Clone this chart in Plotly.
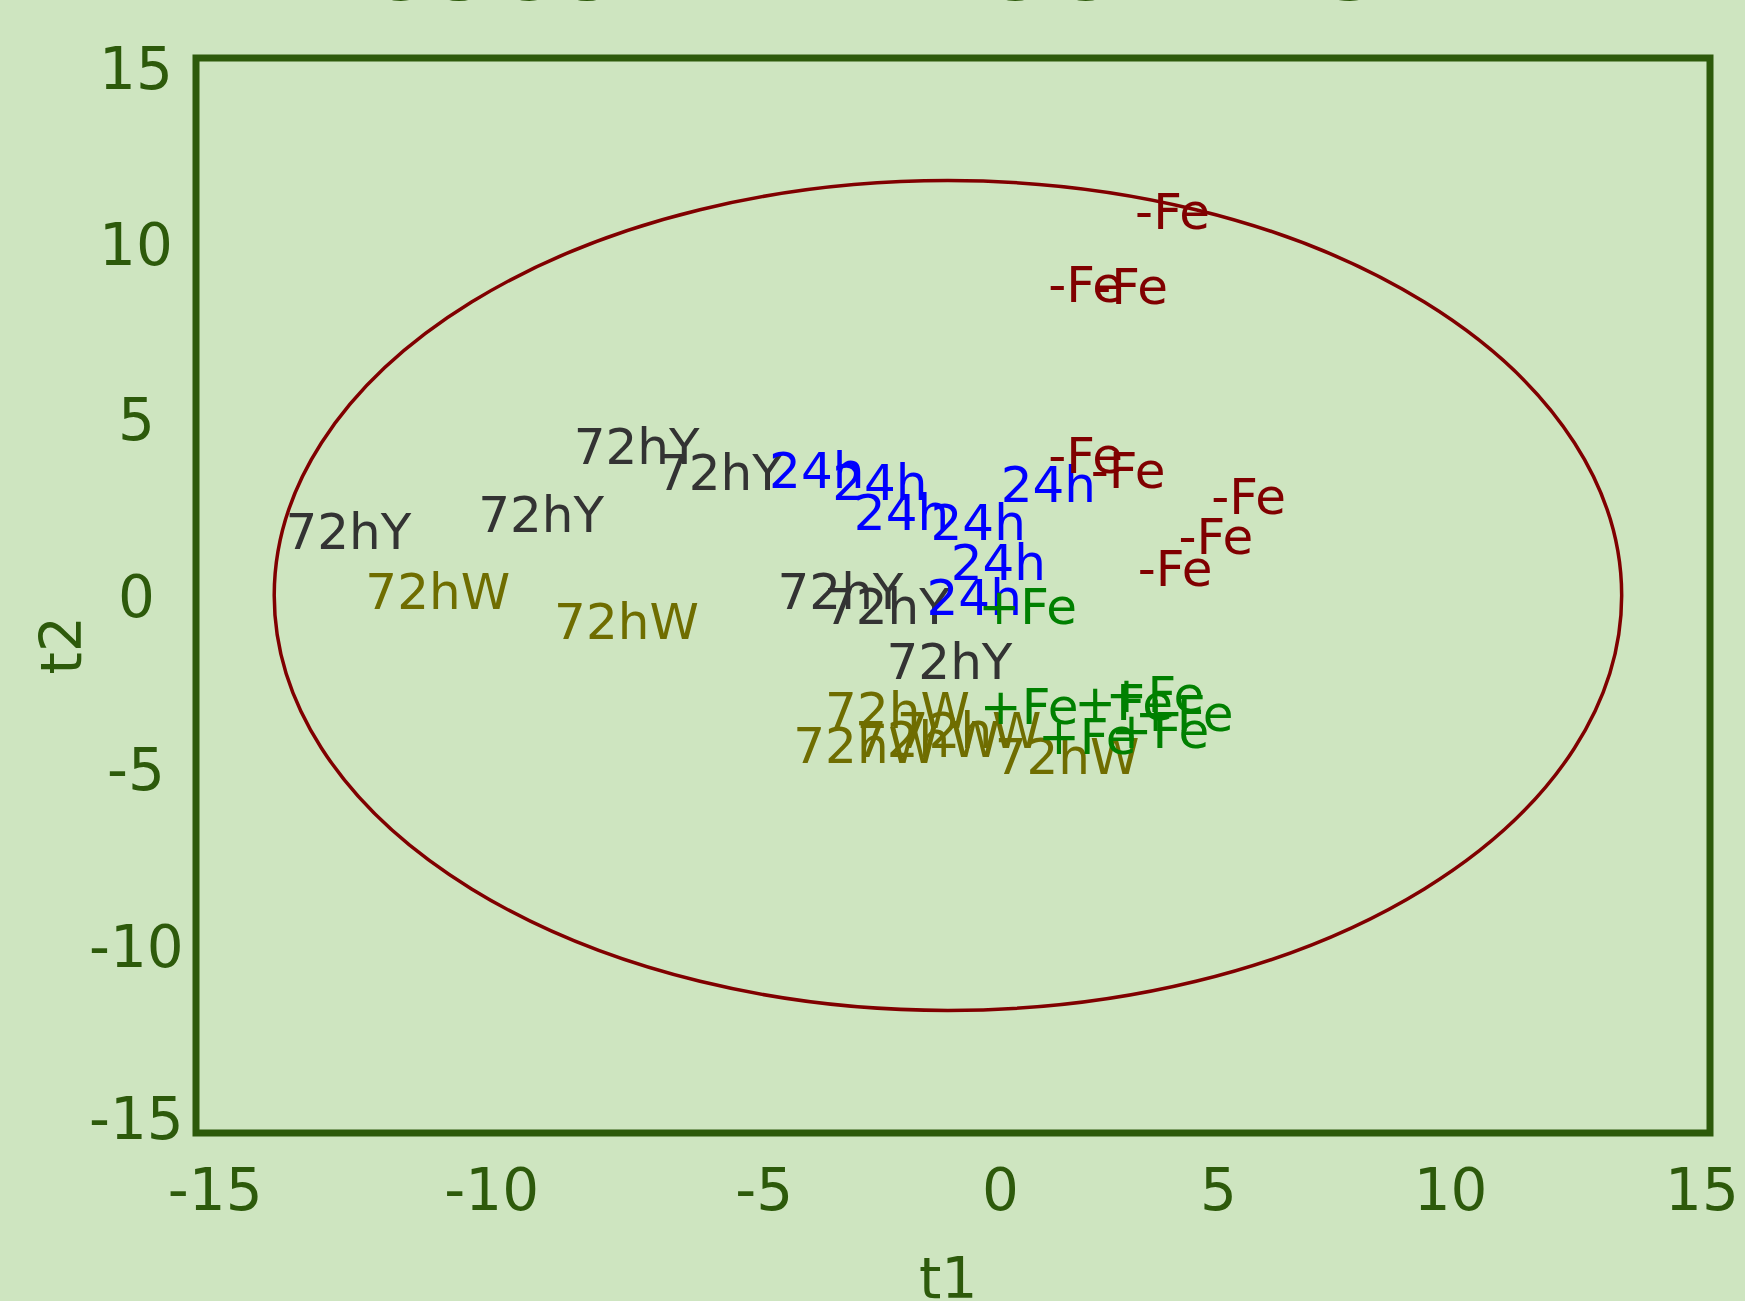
import plotly.graph_objects as go

# ---- data (scores) ----
t1_72hY = [-11.98, -8.16, -6.27, -4.62, -2.23, -1.31, -0.07]
t2_72hY = [1.65, 2.12, 4.01, 3.30, -0.02, -0.46, -1.98]

t1_72hW = [-10.21, -6.47, -1.10, -1.73, -0.51, 0.32, 2.26]
t2_72hW = [-0.02, -0.86, -3.36, -4.32, -4.15, -3.90, -4.64]

t1_24h = [-2.70, -1.45, -1.02, 0.50, 1.89, 0.90, 0.42]
t2_24h = [3.34, 3.01, 2.17, 1.90, 2.96, 0.78, -0.20]

t1_mFe = [2.63, 3.47, 5.86, 5.21, 4.40, 4.35, 2.63, 3.52]
t2_mFe = [3.78, 3.34, 2.62, 1.50, 0.61, 10.57, 8.55, 8.48]

t1_pFe = [1.48, 1.51, 3.38, 4.00, 4.58, 2.66, 4.10]
t2_pFe = [-0.45, -3.25, -3.12, -2.91, -3.43, -4.08, -3.90]

# Hotelling ellipse (center and semi-axes, in score units)
ell_cx, ell_cy = -0.1, 0.0
ell_a, ell_b = 13.35, 11.58

x_tick_pos = [-14.62, -9.14, -3.74, 0.94, 5.26, 9.86, 14.84]
x_tick_labels = ["-15", "-10", "-5", "0", "5", "10", "15"]
y_tick_pos = [14.69, 9.79, 4.89, -0.05, -4.87, -9.80, -14.62]
y_tick_labels = ["15", "10", "5", "0", "-5", "-10", "-15"]

title_text = "CUCUMBER ROOT PLS"
x_title = "t1"
y_title = "t2"

BG = "#cee5c0"
DKGREEN = "#2d5a0b"
FONT = "DejaVu Sans"
LBL = 50
TICK = 58

series = [
    ("72hY", t1_72hY, t2_72hY, "#333333"),
    ("72hW", t1_72hW, t2_72hW, "#6f6d00"),
    ("24h", t1_24h, t2_24h, "#0000ff"),
    ("-Fe", t1_mFe, t2_mFe, "#800000"),
    ("+Fe", t1_pFe, t2_pFe, "#008000"),
]

fig = go.Figure()
for name, xs, ys, col in series:
    fig.add_trace(go.Scatter(
        x=xs, y=ys, mode="text", text=[name] * len(xs),
        textposition="middle center",
        textfont=dict(family=FONT, size=LBL, color=col),
        showlegend=False, hoverinfo="skip", cliponaxis=False,
    ))

fig.add_shape(type="circle", xref="x", yref="y",
              x0=ell_cx - ell_a, x1=ell_cx + ell_a,
              y0=ell_cy - ell_b, y1=ell_cy + ell_b,
              line=dict(color="#800000", width=3.5), layer="above")

fig.add_shape(type="rect", xref="paper", yref="paper", x0=0, x1=1, y0=0, y1=1,
              line=dict(color=DKGREEN, width=7), layer="above")

# centred y tick labels
for v, t in zip(y_tick_pos, y_tick_labels):
    fig.add_annotation(text=t, xref="paper", yref="y", x=0, y=v,
                       xanchor="center", yanchor="middle", xshift=-60,
                       showarrow=False, font=dict(family=FONT, size=TICK, color=DKGREEN))

fig.add_annotation(text="<b>" + title_text + "</b>", xref="paper", yref="paper",
                   x=0.4467, y=1, yanchor="bottom", xanchor="center", yshift=36,
                   showarrow=False, font=dict(family=FONT, size=83, color=DKGREEN))
fig.add_annotation(text=x_title, xref="paper", yref="paper", x=0.4967, y=0,
                   yanchor="middle", xanchor="center", yshift=-145,
                   showarrow=False, font=dict(family=FONT, size=57, color=DKGREEN))
fig.add_annotation(text=y_title, xref="paper", yref="paper", x=0, y=0.5,
                   xanchor="center", yanchor="middle", xshift=-136, yshift=-50,
                   textangle=-90, showarrow=False,
                   font=dict(family=FONT, size=57, color=DKGREEN))

fig.update_xaxes(range=[-15, 15], showgrid=False, zeroline=False, showline=False,
                 ticks="", tickvals=x_tick_pos, ticktext=x_tick_labels,
                 tickfont=dict(family=FONT, size=TICK, color=DKGREEN),
                 ticklabelstandoff=18, automargin=False, ticklabeloverflow="allow")
fig.update_yaxes(range=[-15, 15], showgrid=False, zeroline=False, showline=False,
                 ticks="", showticklabels=False, automargin=False)

fig.update_layout(width=1745, height=1301, paper_bgcolor=BG, plot_bgcolor=BG,
                  margin=dict(l=196, r=35, t=58, b=168), showlegend=False)

fig.write_html("out.html", config={"displayModeBar": False},
               post_script="document.body.style.margin='0';")
